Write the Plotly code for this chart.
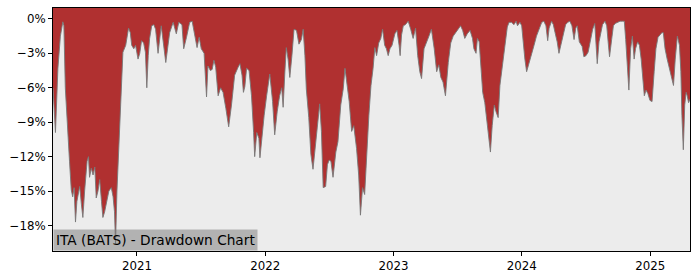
import pandas as pd
import plotly.graph_objects as go

# ---- data ----
BASE_DATE = "2021-01-01"
day_offsets = [-239,-232,-225,-218,-211,-208,-204,-199,-192,-187,-183,-179,-175,-171,-163,-158,-154,-149,-142,-138,
 -135,-130,-125,-120,-116,-111,-106,-101,-97,-92,-85,-80,-73,-68,-64,-61,-57,-52,-47,-44,-40,-32,-27,-24,-19,-15,-9,-4,
 3,8,13,19,24,28,32,36,42,48,53,60,69,82,93,103,112,119,128,133,141,150,157,164,171,177,183,191,198,202,209,214,219,224,
 231,238,245,253,261,269,278,288,293,299,303,307,312,319,326,332,335,341,347,350,356,362,369,378,386,392,399,406,412,416,
 421,425,430,435,441,447,454,461,468,473,478,482,489,495,501,507,513,520,525,530,537,542,547,552,558,566,572,580,587,592,
 598,604,611,617,625,631,636,642,648,653,660,666,672,677,682,688,694,699,705,710,715,720,726,734,740,746,749,753,758,764,
 772,779,786,793,799,805,810,817,824,831,838,846,853,859,865,871,878,886,893,900,907,914,921,927,933,940,948,955,959,965,
 969,974,978,984,990,995,1000,1006,1011,1017,1022,1028,1033,1038,1042,1047,1054,1059,1066,1073,1079,1083,1090,1095,1099,
 1104,1109,1114,1118,1125,1131,1137,1144,1152,1158,1164,1169,1173,1180,1185,1190,1196,1201,1207,1213,1220,1226,1232,1238,
 1244,1249,1253,1259,1267,1272,1278,1284,1291,1297,1303,1306,1310,1315,1320,1325,1332,1337,1341,1345,1351,1356,1361,1367,
 1375,1382,1387,1391,1396,1400,1405,1410,1415,1419,1425,1430,1435,1439,1444,1449,1454,1460,1466,1472,1477,1483,1489,1494,
 1498,1503,1509,1515,1521,1527,1532,1538,1544,1548,1551,1555,1559,1563,1566,1570,1574]
drawdown_pct = [-6.0,-9.9,-4.3,-1.5,-0.25,-0.6,-6.0,-9.0,-12.4,-14.9,-15.5,-14.7,-17.7,-15.9,-14.6,-16.2,-17.3,-15.0,-12.4,-12.0,
 -13.8,-13.0,-13.6,-12.9,-15.6,-15.0,-14.0,-15.9,-17.3,-16.8,-15.9,-15.0,-14.7,-15.5,-16.8,-19.6,-15.0,-11.0,-7.5,-5.2,-2.9,-2.3,-1.5,-0.8,-1.2,-2.3,-2.6,-2.3,
 -3.5,-3.0,-1.9,-2.1,-2.9,-6.0,-3.2,-1.7,-0.6,-0.5,-0.9,-3.0,-0.6,-3.8,-1.2,-0.3,-1.3,-0.3,-0.5,-2.6,-1.6,-0.3,-0.2,-1.2,-2.5,-1.6,-2.6,-3.0,-6.8,-4.1,-4.5,-4.4,-3.6,-4.2,
 -6.7,-6.0,-6.4,-7.8,-9.4,-7.5,-4.9,-4.2,-3.9,-4.9,-6.4,-5.9,-4.3,-4.5,-6.7,-9.9,-12.0,-9.9,-10.4,-12.1,-9.9,-8.4,-6.7,-4.8,-7.2,-10.1,-8.1,-6.7,-6.0,-7.7,
 -4.6,-2.5,-3.5,-5.1,-3.2,-0.9,-1.0,-2.2,-1.8,-0.9,-3.2,-6.1,-8.6,-11.8,-13.1,-11.0,-9.5,-7.4,-9.8,-14.7,-14.6,-12.7,-12.3,-12.4,-13.8,-11.6,-10.7,-7.5,-6.1,-4.3,
 -5.8,-7.2,-9.8,-9.3,-11.3,-13.6,-17.1,-14.7,-15.3,-11.8,-8.4,-5.8,-4.3,-2.5,-3.2,-2.1,-1.7,-0.9,-2.3,-2.6,-3.2,-2.6,-2.3,-1.3,-1.0,-2.3,-3.2,-1.4,-0.6,-0.5,
 -0.2,-0.9,-1.7,-0.8,-3.2,-4.6,-5.2,-2.6,-2.1,-1.5,-0.9,-2.6,-4.6,-4.0,-5.1,-5.5,-6.7,-3.8,-2.1,-1.5,-1.2,-0.9,-0.6,-1.0,-1.7,-1.3,-1.0,-1.7,-2.6,-3.0,
 -1.7,-2.0,-4.1,-6.4,-7.3,-8.6,-9.5,-11.6,-9.3,-7.5,-8.1,-8.6,-5.8,-4.6,-3.2,-2.0,-0.7,-0.3,-0.3,-0.5,-0.2,-0.6,-0.3,-0.6,-2.0,
 -3.5,-4.6,-4.1,-3.5,-3.0,-2.2,-1.5,-0.9,-0.3,-0.2,-0.6,-1.9,-0.8,-0.2,-0.5,-1.2,-2.0,-3.0,-2.2,-1.2,-0.5,-0.3,-0.2,-0.6,
 -1.8,-0.8,-0.6,-2.0,-2.4,-3.3,-3.2,-2.9,-1.8,-0.9,-0.4,-1.8,-3.9,-2.0,-1.2,-0.5,-0.2,-0.6,-2.0,-3.3,-1.8,-0.6,-0.4,-0.3,
 -0.2,-0.2,-0.2,-1.8,-4.1,-6.2,-2.6,-1.5,-3.5,-2.6,-2.0,-2.3,-3.5,-5.1,-6.7,-6.2,-6.5,-7.1,-7.2,-4.6,-2.6,-1.6,-1.4,-1.2,
 -1.2,-2.6,-3.5,-4.3,-5.2,-5.8,-3.5,-1.5,-2.3,-4.6,-8.4,-11.4,-7.5,-6.4,-6.7,-7.3,-7.0]
y_tick_values = [0, -3, -6, -9, -12, -15, -18]
y_tick_labels = ["0%", "\u22123%", "\u22126%", "\u22129%", "\u221212%", "\u221215%", "\u221218%"]
chart_title = "ITA (BATS) - Drawdown Chart"

# ---- style ----
Y_MIN, Y_MAX = -20.22, 0.95
RED = "#B03030"
BG = "#ECECEC"
FONT = "DejaVu Sans"

dates = pd.Timestamp(BASE_DATE) + pd.to_timedelta(day_offsets, unit="D")

fig = go.Figure()
fig.add_trace(go.Scatter(x=dates, y=[Y_MIN] * len(dates), mode="lines",
                         line=dict(width=0, color=BG), hoverinfo="skip"))
fig.add_trace(go.Scatter(x=dates, y=drawdown_pct, mode="lines", fill="tonexty",
                         fillcolor=BG, line=dict(color="rgba(120,120,120,0.9)", width=1)))

axis_common = dict(showline=True, mirror=True, linecolor="black", linewidth=1,
                   ticks="outside", ticklen=4, tickcolor="black", showgrid=False,
                   zeroline=False, tickfont=dict(family=FONT, size=11.8, color="black"))

fig.update_layout(
    width=700, height=280,
    margin=dict(l=53, r=10, t=7, b=28),
    paper_bgcolor="white", plot_bgcolor=RED,
    showlegend=False,
    xaxis=dict(type="date", range=[dates[0], dates[-1]], dtick="M12",
               tick0="2021-01-01", tickformat="%Y", **axis_common),
    yaxis=dict(range=[Y_MIN, Y_MAX], tickmode="array", tickvals=y_tick_values,
               ticktext=y_tick_labels, **axis_common),
    annotations=[dict(text=chart_title, x=0, y=0, xref="paper", yref="paper",
                      xanchor="left", yanchor="bottom", showarrow=False,
                      bgcolor="rgba(120,120,120,0.5)", borderpad=2,
                      font=dict(family=FONT, size=13.7, color="black"))],
)

fig.write_html("out.html")
